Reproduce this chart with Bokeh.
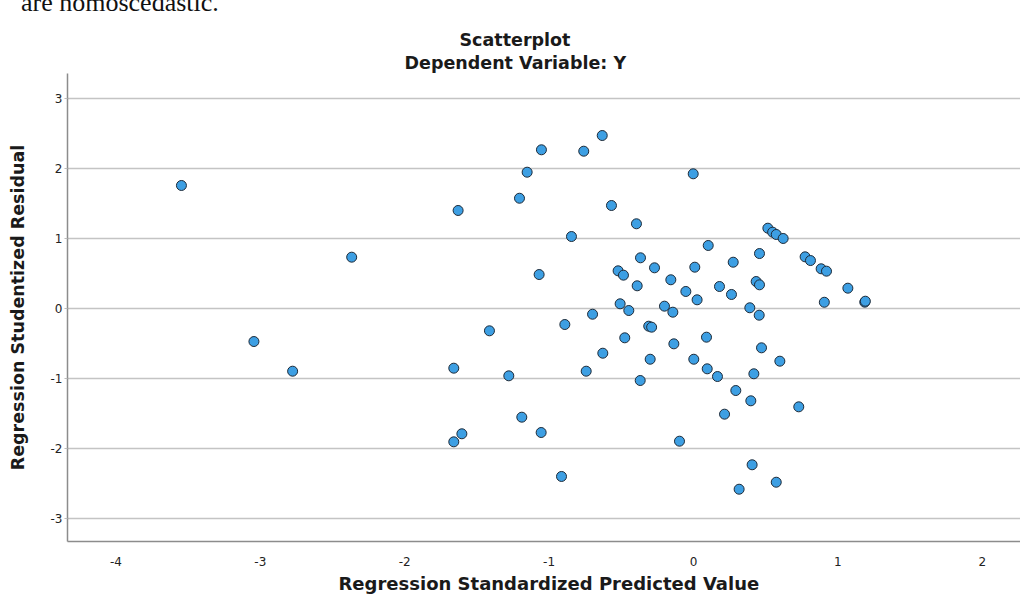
from bokeh.plotting import figure
from bokeh.models import Range1d, FixedTicker, Title, Div
from bokeh.layouts import column
from bokeh.embed import file_html
from bokeh.resources import INLINE

# ---- data ----
pred_left = [-3.546, -2.367, -3.044, -2.776]
resid_left = [1.753, 0.729, -0.476, -0.900]

pred_mid = [-0.632, -1.053, -0.760, -1.152, -0.002, -1.205, -1.630, -0.568, -0.395, -0.845,
            0.102, -0.367, -1.069, -0.522, -0.485, -0.270, 0.009, -0.157, -0.390, -0.053,
            0.025, 0.180, -0.508, -0.448, -0.201, -0.143, -0.699, -0.891, -0.310, -0.290,
            -1.413, -0.476, 0.090]
resid_mid = [2.467, 2.263, 2.243, 1.943, 1.920, 1.571, 1.396, 1.467, 1.206, 1.024,
             0.896, 0.720, 0.481, 0.534, 0.472, 0.577, 0.586, 0.406, 0.320, 0.239,
             0.120, 0.310, 0.063, -0.033, 0.029, -0.057, -0.086, -0.233, -0.257, -0.271,
             -0.323, -0.423, -0.414]

pred_low = [-0.136, -0.628, -0.300, 0.002, 0.095, 0.166, -1.660, -1.279, -0.743, -0.369,
            -1.189, -1.604, -1.660, -1.055, -0.097, -0.914]
resid_low = [-0.509, -0.643, -0.729, -0.729, -0.866, -0.976, -0.857, -0.966, -0.900, -1.033,
             -1.557, -1.794, -1.909, -1.776, -1.900, -2.404]

pred_right = [0.390, 0.455, 0.906, 1.186, 1.190, 0.471, 0.598, 0.418, 0.293, 0.397,
              0.729, 0.215, 0.406, 0.573, 0.316,
              0.515, 0.548, 0.573, 0.621, 0.275, 0.457, 0.773, 0.810, 0.884, 0.921,
              0.263, 0.434, 0.457, 1.069]
resid_right = [0.006, -0.100, 0.085, 0.086, 0.100, -0.566, -0.757, -0.937, -1.176, -1.323,
               -1.409, -1.514, -2.237, -2.486, -2.586,
               1.143, 1.086, 1.053, 0.996, 0.657, 0.781, 0.734, 0.681, 0.563, 0.529,
               0.196, 0.381, 0.334, 0.286]

x_vals = pred_left + pred_mid + pred_low + pred_right
y_vals = resid_left + resid_mid + resid_low + resid_right

x_ticks = [-4, -3, -2, -1, 0, 1, 2]
x_tick_labels = ["-4", "-3", "-2", "-1", "0", "1", "2"]
y_ticks = [-3, -2, -1, 0, 1, 2, 3]
y_tick_labels = ["-3", "-2", "-1", "0", "1", "2", "3"]

title_main = "Scatterplot"
title_sub = "Dependent Variable: Y"
x_title = "Regression Standardized Predicted Value"
y_title = "Regression Studentized Residual"
doc_text = "are homoscedastic."

FONT = "DejaVu Sans"

# ---- strip with the (cut off) line of document text above the chart ----
doc = Div(
    text=('<div style="position:relative; top:-10px; left:21px; white-space:nowrap; '
          'font-family:\'Liberation Serif\'; font-size:26px; line-height:26px; '
          'color:#111111;">' + doc_text + '</div>'),
    width=1020, height=12, margin=0,
    styles={"overflow": "hidden", "background-color": "white"})

# ---- main scatter ----
p = figure(width=1020, height=589, output_backend="svg", toolbar_location=None,
           x_range=Range1d(-4.335, 2.2645), y_range=Range1d(-3.333, 3.353),
           min_border_left=67, min_border_right=0, min_border_top=61, min_border_bottom=60)

p.background_fill_color = "white"
p.border_fill_color = "white"
p.outline_line_color = None

p.xgrid.visible = False
p.ygrid.ticker = FixedTicker(ticks=y_ticks)
p.ygrid.grid_line_color = "#c4c4c4"
p.ygrid.grid_line_width = 1.3

for ax in (p.xaxis[0], p.yaxis[0]):
    ax.axis_line_color = "#8c8c8c"
    ax.axis_line_width = 1.5
    ax.minor_tick_line_color = None
    ax.major_label_text_font = FONT
    ax.major_label_text_font_size = "12px"
    ax.major_label_text_color = "#222222"

p.xaxis[0].ticker = FixedTicker(ticks=x_ticks)
p.xaxis[0].major_label_overrides = dict(zip(x_ticks, x_tick_labels))
p.xaxis[0].major_tick_line_color = None
p.xaxis[0].major_label_standoff = 9

p.yaxis[0].ticker = FixedTicker(ticks=y_ticks)
p.yaxis[0].major_label_overrides = dict(zip(y_ticks, y_tick_labels))
p.yaxis[0].major_tick_line_color = "#bbbbbb"
p.yaxis[0].major_tick_out = 3
p.yaxis[0].major_tick_in = 0
p.yaxis[0].major_label_standoff = 2
p.yaxis[0].axis_label = y_title
p.yaxis[0].axis_label_text_font = FONT
p.yaxis[0].axis_label_text_font_style = "bold"
p.yaxis[0].axis_label_text_font_size = "17.5px"
p.yaxis[0].axis_label_text_color = "#1a1a1a"
p.yaxis[0].axis_label_standoff = 20

p.scatter(x_vals, y_vals, size=10, fill_color="#3d9fe3", line_color="#1d2a38", line_width=1)

def mk_title(txt, align, offset, standoff, size):
    return Title(text=txt, align=align, offset=offset, standoff=standoff,
                 text_font=FONT, text_font_style="bold", text_font_size=size,
                 text_color="#1a1a1a")

# subtitle first (closest to frame), then main title above it
p.add_layout(mk_title(title_sub, "left", 337, 1, "17.5px"), "above")
p.add_layout(mk_title(title_main, "left", 392, 1, "17.5px"), "above")
p.add_layout(mk_title(x_title, "left", 271, 4, "18px"), "below")

layout = column(doc, p, spacing=0)
open("out.html", "w").write(file_html(layout, INLINE))
